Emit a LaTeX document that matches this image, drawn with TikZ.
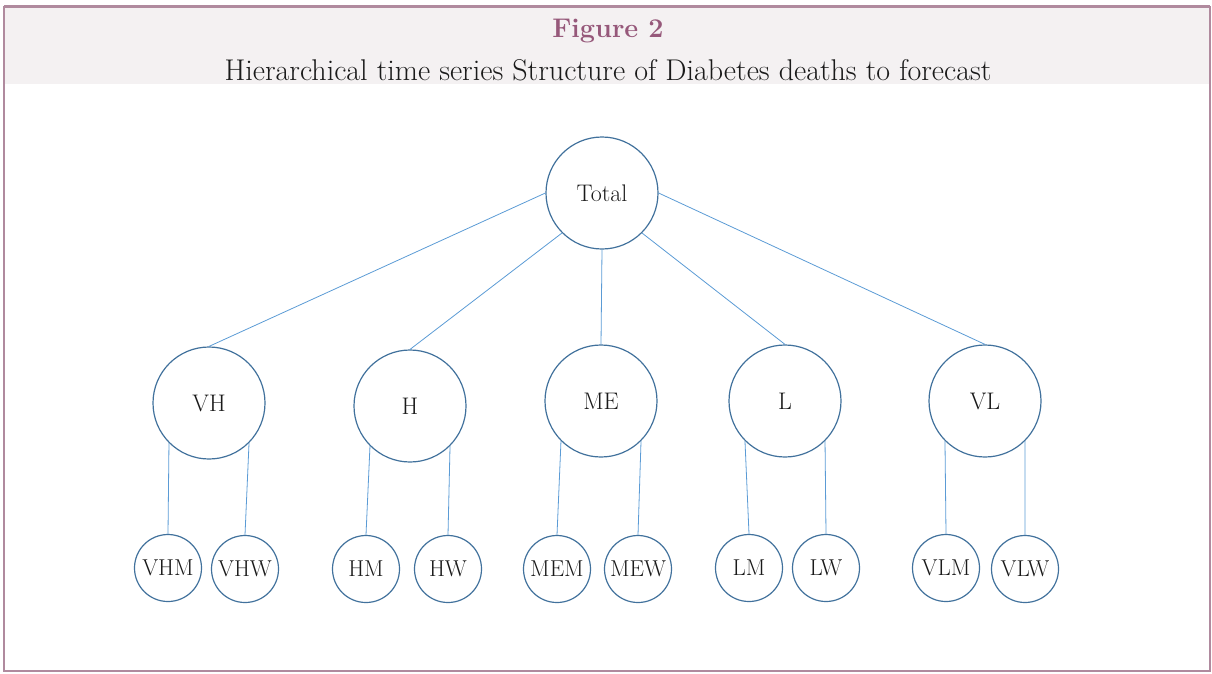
\documentclass[tikz,border=0pt]{standalone}
\usepackage{xcolor}
\definecolor{frame}{HTML}{B08A9E}
\definecolor{band}{HTML}{F4F1F2}
\definecolor{titlec}{HTML}{96587A}
\definecolor{circ}{HTML}{41719C}
\definecolor{conn}{HTML}{5B9BD5}
\definecolor{txt}{HTML}{1A1A1A}
\begin{document}
\begin{tikzpicture}[x=1pt,y=-1pt,
  big/.style={circle,draw=circ,line width=1.2pt,minimum size=112pt,inner sep=0pt,text=txt,font=\fontsize{24}{26}\selectfont},
  small/.style={circle,draw=circ,line width=1.2pt,minimum size=67pt,inner sep=0pt,text=txt,font=\fontsize{23}{25}\selectfont},
  link/.style={draw=conn,line width=0.8pt}]
\useasboundingbox (0,0) rectangle (1212,673);
\fill[band] (4,7) rectangle (1210,84);
\draw[frame,line width=1.2pt] (4,7) rectangle (1210,671);
\draw[frame,line width=2pt] (4,6) -- (1210,6);
\node[font=\bfseries\fontsize{27}{29}\selectfont,text=titlec] (title) at (608,31) {Figure 2};
\node[font=\fontsize{30}{32}\selectfont,text=txt] (subtitle) at (608,70) {Hierarchical time series Structure of Diabetes deaths to forecast};
\node[big] (total) at (602,193) {Total};
\node[big] (vh) at (209,403) {VH};
\node[big] (h) at (410,406) {H};
\node[big] (me) at (601,401) {ME};
\node[big] (l) at (785,401) {L};
\node[big] (vl) at (985,401) {VL};
\node[small] (vhm) at (168,568) {VHM};
\node[small] (vhw) at (245,569) {VHW};
\node[small] (hm) at (366,569) {HM};
\node[small] (hw) at (448,569) {HW};
\node[small] (mem) at (557,569) {MEM};
\node[small] (mew) at (638,569) {MEW};
\node[small] (lm) at (749,568) {LM};
\node[small] (lw) at (826,568) {LW};
\node[small] (vlm) at (946,568) {VLM};
\node[small] (vlw) at (1025,569) {VLW};
\draw[link] (total.west) -- (vh.north);
\draw[link] (total.south west) -- (h.north);
\draw[link] (total.south) -- (me.north);
\draw[link] (total.south east) -- (l.north);
\draw[link] (total.east) -- (vl.north);
\foreach \p/\a/\b in {vh/vhm/vhw,h/hm/hw,me/mem/mew,l/lm/lw,vl/vlm/vlw}{
  \draw[link] (\p.south west) -- (\a.north);
  \draw[link] (\p.south east) -- (\b.north);
}
\end{tikzpicture}
\end{document}
